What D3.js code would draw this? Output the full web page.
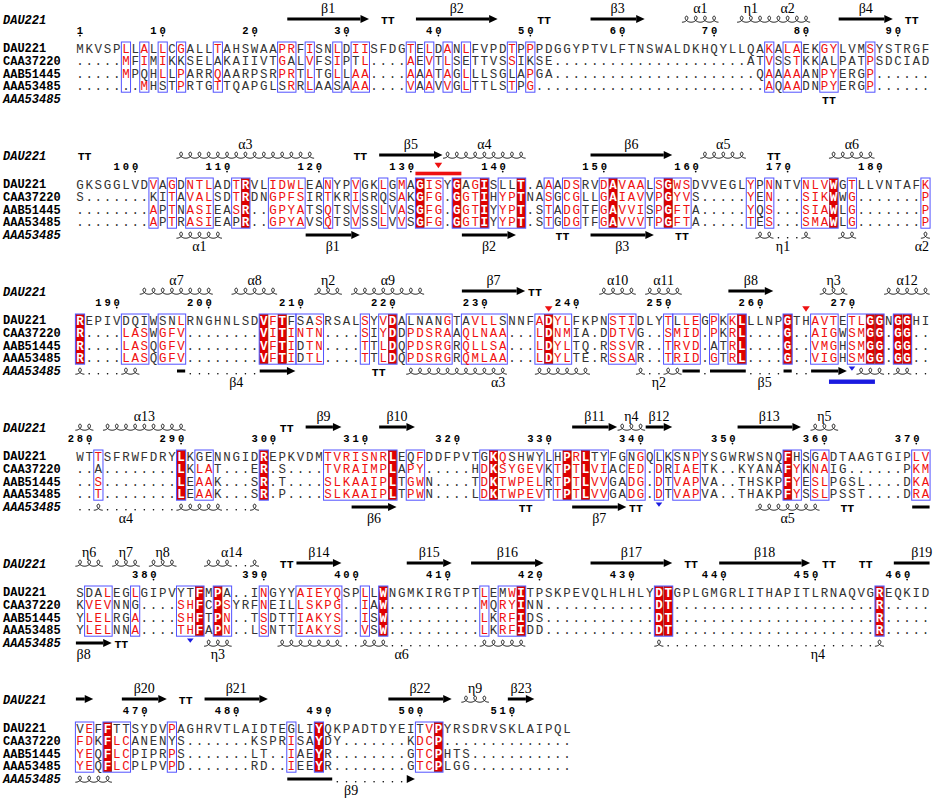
<!DOCTYPE html>
<html>
<head>
<meta charset="utf-8">
<script src="https://cdn.jsdelivr.net/npm/d3@7"></script>
<style>
  body { margin: 0; background: #fff; }
  svg { display: block; }
</style>
</head>
<body>
<svg id="chart"></svg>
<script>
const names = ["DAU221", "CAA37220", "AAB51445", "AAA53485"];

// one string per alignment block; inside a framed column an upper-case letter is printed red,
// a lower-case letter marks a residue that stays black
const dau221 = [
  "MKVSPLLALLCGALLTAHSWAAPRFISNLDIISFDGTELDANLFVPDTPPPDGGYPTVLFTNSWALDKHQYLLQAKALAEKGYLVMSYSTRGF",
  "GKSGGLVDVAGDNTLADTRVLIDWLEANYPVGKLGMAGISYGaGISllT.AAADSRVDAVAALSGWSDVVEGLYPNNTVNLVWGTLLVNTAFK",
  "REPIVdqiWsnLRNGHNLSDVFTfsaSRSALSYVDAlnanGTaVLLsNNFADYLFKPNSTIDLYTlLEGPKKLLLNPGTHAVTETLGGNGGHI",
  "WTTSFRWFDRYLKgeNNGIDREPKVDMTVRISNRLEqFDDFPVTgKQshwyLhPRLtyFGnGQlKsnPYSGWRWSNQFhSgADTAAGTGIPLV",
  "SdaLEGLGIPVytFMPa..INGYYAIEYQSPLLWNGMKIRGTPTLEmWITPSKPEVQLHLHLYDTGPLGMGRLITHAPITLRNAQVGREQKID",
  "vEFFttSYDVPAGHRVTLAIDTEgLIYQKPADTDYEItVPYRSDRVSKLAIPQL"
];
const caa37220 = [
  ".....MFIMIKkSELaKAIIVTGaLVFSIPtL....AEVTLSeTTVSSIkSE.....................ATVSsTKKalPATPSDCIAD",
  "S.......kITAVALSDTRDNGPFSIRTKRISRqSAKGFG.GGTIHYPTNASGCGLLGAIAVVPGYVS.....YEN...SIKWWG.......P",
  "R....LASWGFV........VITINTN....SIYDDPDSRAAQLNAA...LDNMIA.DDTVG..SMID.PKRL....G..AIGWSMGG.GG..",
  "..a........LKLAT...ER.S....TVRAIMPLAPY.....HDKSYGEVKTPTLVIACED.DRIAETK..KYANAFYKNAIG......PKM",
  "KVEVNNg....SHFCPSYRFNEILLSKPG..IAW..........MQRYINN............DT......................R.....",
  "FDKFLCANENyS.......KSPRISAYDY.......KDCP.............."
];
const aab51445 = [
  ".....MPqHLLPARRQAARPSRPRTLTGLLAA....AAATAGLLLSGlAPGA......................QAAAAANPYERGP......",
  "........APTNASIEASR..GPYATSQTSVSSLVASGFG.GGTIYYPT.STADGTFGAVVISPGFTA.....YQS...SIAWLG.......P",
  "R....LASQGFV........VFTIdTN....TTLDQPDSRGRQLLSA...LDYLTQ.RSSVR..TRVD.aTRL....G..VMGHSMGG.GG..",
  "..S........LEAAK...SR.T....SLKAAIPLTGWN....TDKTWPELRTPTLVVGADG.DTVAPVA..THSKPFYESLPGSL....DKA",
  "YLELRGA....SHFTPN..TSDTTIAKYS..ISW..........LKRFIDS............DT......................R.....",
  "YEQFLCPIPRPS.......LT..IAEYR........GTCPHTS..........."
];
const aaa53485 = [
  ".......MHsTPRTGTTQAPGLsRRLAAsAAA....VAAVVGLTTLSTPG.........................AQAADNPYERGP......",
  "........APTRASIEApR..GPYAVSQTSVSSLVVSGFG.GGTIYYPT.STGDGTFGAVVVTPGFTA.....TES...SMAWLG.......P",
  "R....LASQGFV........VFTIdTL....TTLDQPDSRGRQMLAA...LDYLTE.RSSAR..TRID.GTRL....G..VIGHSMGG.GG..",
  "..T........LEAAK...SR.P....SLKAAIPLTPWN....LDKTWPEVTTPTLVVGADG.DTVAPVA..THAKPFYSSLPSST....DRA",
  "YLELNNA....THFAPN..LSNTTIAKYS..VSW..........LKRFIDD............DT......................R.....",
  "YEQFLCPLPVPD.......RD..IEEYR........GTCPLGG..........."
];

// similarity frames [first column, last column] per block
const framed = [
  [[5,5],[7,7],[9,9],[11,11],[15,15],[22,23],[25,25],[28,28],[30,31],[36,36],[38,38],[40,40],[42,42],[47,47],[49,49],[75,75],[77,78],[81,82],[86,86]],
  [[8,8],[10,10],[12,14],[17,18],[21,24],[27,27],[30,30],[33,33],[35,35],[37,39],[41,44],[46,48],[51,51],[53,54],[57,61],[63,66],[73,73],[75,75],[79,82],[84,84],[92,92]],
  [[0,0],[5,7],[9,11],[20,23],[24,26],[31,31],[33,34],[36,40],[42,46],[50,53],[58,60],[64,64],[65,67],[69,69],[71,72],[77,77],[80,82],[84,87],[89,90]],
  [[2,2],[11,11],[13,14],[20,20],[27,34],[36,37],[44,50],[52,57],[60,61],[63,63],[65,67],[77,78],[80,81],[91,92]],
  [[1,3],[6,6],[11,13],[15,16],[20,20],[24,28],[31,31],[33,33],[44,44],[46,48],[63,64],[87,87]],
  [[0,1],[3,5],[10,10],[23,23],[26,26],[37,39]]
];
// strictly conserved columns per block
const strict = [
  [],
  [18,37,41,44,48,58,64,82],
  [0,20,22,34,51,72,77,86,87,89,90],
  [11,20,34,45,53,55,77],
  [13,15,33,48,63,64,87],
  [3,26,39]
];

// secondary structure: [kind, first col, last col, label, label col]
// E strand with head, B strand without head, H helix, T turn, . gap
const ssTop = [
  [["E",23,31,"β1"],["T",33,34],["E",37,45,"β2"],["T",50,51],["E",56,61,"β3"],["H",66,69,"α1"],["H",72,74,"η1"],["H",75,79,"α2"],["E",83,88,"β4"],["T",90,91]],
  [["T",0,1],["H",11,25,"α3"],["T",30,31],["E",33,39,"β5"],["H",40,48,"α4"],["E",56,64,"β6"],["H",68,72,"α5"],["T",75,76],["H",82,86,"α6"]],
  [["H",7,14,"α7"],["H",17,21,"α8"],["H",26,28,"η2"],["H",30,37,"α9"],["E",42,48,"β7"],["T",49,50],["H",57,60,"α10"],["H",62,65,"α11"],["E",71,75,"β8"],["H",81,83,"η3"],["H",88,92,"α12"]],
  [["H",0,1],["H",3,11,"α13"],["T",22,23],["E",25,28,"β9"],["E",33,36,"β10"],["E",54,58,"β11"],["H",59,61,"η4"],["E",62,64,"β12"],["E",72,78,"β13"],["H",80,82,"η5"]],
  [["H",0,2,"η6"],["H",4,6,"η7"],["H",8,10,"η8"],["H",14,16],[".",17,18],["H",19,19,"α14",16.5],["T",22,23],["E",24,28,"β14"],["E",36,40,"β15"],["E",43,50,"β16"],["E",56,64,"β17"],["T",66,67],["E",70,79,"β18"],["T",81,82],["T",85,86],["B",89,92,"β19",91.6]],
  [["E",0,1],["E",5,9,"β20"],["T",11,12],["E",14,20,"β21"],["E",34,40,"β22"],["H",42,44,"η9"],["E",47,49,"β23"]]
];
const ssBottom = [
  [["T",81,82]],
  [["H",11,15,"α1"],["E",25,30,"β1"],["E",42,47,"β2"],["T",52,53],["E",56,62,"β3"],["T",65,66],["H",74,75],[".",76,78],["H",79,79,"η1",76.5],["H",83,84],["H",92,92,"α2",91.6]],
  [["H",0,0],[".",1,4],["H",5,6],["B",11,11],[".",12,19],["E",20,23,"β4",17],["T",32,33],["H",36,46],["H",50,55,"α3",45.5],["H",61,61],[".",62,63],["H",64,65,"η2",63],["B",66,67],[".",68,68],["B",69,72],[".",73,76],["B",77,77],[".",78,79],["E",80,83,"β5",74.5],["H",85,87],[".",88,88],["H",89,90],[".",91,92]],
  [[".",0,1],["H",2,2],[".",3,10],["H",11,15],[".",16,18],["H",19,19,"α4",5],["E",30,34,"β6"],["T",48,49],["E",54,59,"β7"],["T",60,61],["H",74,80,"α5"],["T",83,84],["B",91,92]],
  [["E",0,3,"β8",0.4],["T",4,5],["H",14,16,"η3"],["H",22,28],[".",29,30],["H",31,33],[".",34,43],["H",44,48,"α6",35],["H",63,63],[".",64,86],["H",87,87,"η4",80.3]],
  [["H",0,3],["B",23,27],[".",28,35],["E",36,36,"β9",29.5]]
];

// site marks: [block, column] and bars [block, first, last]
const redSites = [[1,39],[2,51],[2,79]];
const redSpans = [[1,37,41]];
const blueSites = [[2,84],[3,63],[4,12]];
const blueSpans = [[2,82,86]];

const seqs = [dau221, caa37220, aab51445, aaa53485];
const mono = "'Liberation Mono', 'DejaVu Sans Mono', monospace";
const serif = "'Liberation Serif', 'DejaVu Serif', serif";
const RED = "#f01010", FILL = "#e00000", BLUE = "#5252ff", INK = "#333";

const svg = d3.select("#chart").attr("width", 935).attr("height", 799);
const x = d3.scaleLinear().domain([0, 93]).range([75.4, 930.07]);
const cw = x(1) - x(0);
const cx = c => x(c + 0.5);
const y = d3.scaleBand().domain(names).range([42, 92.2]);
const by = d3.scaleLinear().domain([0, 1]).range([0, 136]);

// looped helix glyph, one loop per residue
function coil(s, e, yb) {
  const a = cw / (2 * Math.PI);
  const tMax = (e - s + 1) * 2 * Math.PI;
  return d3.range(0, tMax + 0.001, 0.12)
    .map(t => [x(s) + a * t + 3.3 * Math.sin(t), yb - 3.0 * (1 - Math.cos(t))]);
}

function drawSS(g, list, yl, labelY) {
  const line = d3.line();
  list.forEach(([k, s, e, label, lc]) => {
    const x0 = x(s) + 0.5, x1 = x(e + 1) - 0.5;
    if (k === "E") {
      const hl = Math.min(8.5, x1 - x0);
      if (x1 - hl > x0)
        g.append("rect").attr("x", x0).attr("y", yl - 1.5).attr("width", x1 - hl - x0).attr("height", 3).attr("fill", "#000");
      g.append("path").attr("d", `M${x1 - hl},${yl - 4}L${x1},${yl}L${x1 - hl},${yl + 4}Z`).attr("fill", "#000");
    } else if (k === "B") {
      g.append("rect").attr("x", x0).attr("y", yl - 1.5).attr("width", x1 - x0).attr("height", 3).attr("fill", "#000");
    } else if (k === "H") {
      g.append("path").attr("d", line(coil(s, e, yl + 3.2)))
        .attr("fill", "none").attr("stroke", "#000").attr("stroke-width", 0.95);
    } else if (k === "T") {
      g.append("text").attr("x", (cx(s) + cx(e)) / 2).attr("y", yl + 4.5)
        .attr("text-anchor", "middle").attr("font-family", mono).attr("font-weight", "bold")
        .attr("font-size", 11.5).text("TT");
    } else {
      g.selectAll(null).data(d3.range(s, e + 1)).join("circle")
        .attr("cx", c => cx(c)).attr("cy", yl + 2.8).attr("r", 0.8).attr("fill", "#000");
    }
    if (label) {
      g.append("text").attr("x", cx(lc !== undefined ? lc : (s + e) / 2)).attr("y", labelY)
        .attr("text-anchor", "middle").attr("font-family", serif).attr("font-size", 14)
        .text(label);
    }
  });
}

let res = 1;
dau221.forEach((dauRow, b) => {
  const g = svg.append("g").attr("transform", `translate(0,${by(b)})`);
  const inFrame = new Set();
  framed[b].forEach(([s, e]) => d3.range(s, e + 1).forEach(c => inFrame.add(c)));
  const solid = new Set(strict[b]);
  const [top, bot] = y.range();

  // conserved columns
  g.selectAll("rect.id").data(strict[b]).join("rect")
    .attr("x", c => x(c) + 0.5).attr("y", top + 0.6)
    .attr("width", cw - 1).attr("height", bot - top - 1.2)
    .attr("fill", FILL).attr("stroke", "#8a1010").attr("stroke-width", 0.7);

  // similarity frames
  g.selectAll("rect.fr").data(framed[b]).join("rect")
    .attr("x", d => x(d[0])).attr("y", top)
    .attr("width", d => x(d[1] + 1) - x(d[0])).attr("height", bot - top)
    .attr("fill", "none").attr("stroke", BLUE).attr("stroke-width", 1);

  // sequence names and residues
  names.forEach((name, i) => {
    const yc = y(name) + y.bandwidth() / 2;
    g.append("text").attr("x", 3).attr("y", yc + 4.2)
      .attr("font-family", mono).attr("font-weight", "bold").attr("font-size", 12).text(name);
    const chars = seqs[i][b].split("").map((ch, c) => ({ ch, c }));
    g.selectAll(null).data(chars).join("text")
      .attr("x", d => cx(d.c)).attr("y", yc + 4.3)
      .attr("text-anchor", "middle").attr("font-family", mono).attr("font-size", 12.5)
      .attr("font-weight", d => solid.has(d.c) ? "bold" : "normal")
      .attr("fill", d => {
        if (d.ch === ".") return INK;
        if (solid.has(d.c)) return "#fff";
        if (inFrame.has(d.c) && d.ch === d.ch.toUpperCase()) return RED;
        return INK;
      })
      .text(d => d.ch.toUpperCase());
  });

  // italic structure labels
  g.append("text").attr("x", 3).attr("y", 24).attr("font-family", mono)
    .attr("font-weight", "bold").attr("font-style", "italic").attr("font-size", 12).text(names[0]);
  g.append("text").attr("x", 3).attr("y", 102.5).attr("font-family", mono)
    .attr("font-weight", "bold").attr("font-style", "italic").attr("font-size", 12).text(names[3]);

  // residue numbering of DAU221
  dauRow.split("").forEach((ch, c) => {
    if (ch === ".") return;
    if (res === 1 || res % 10 === 0) {
      const digits = String(res).split("");
      digits.forEach((dg, k) => {
        g.append("text").attr("x", cx(c - (digits.length - 1 - k))).attr("y", 33.5)
          .attr("text-anchor", "middle").attr("font-family", mono).attr("font-weight", "bold")
          .attr("font-size", 10.5).text(dg);
      });
      g.append("circle").attr("cx", cx(c)).attr("cy", 35.6).attr("r", 0.9).attr("fill", "#000");
    }
    res++;
  });

  drawSS(g, ssTop[b], 19, 12.8);
  drawSS(g, ssBottom[b], 99, 115);

  // site marks
  const hasRedBar = redSpans.some(d => d[0] === b);
  redSpans.filter(d => d[0] === b).forEach(([, s, e]) => {
    g.append("rect").attr("x", x(s)).attr("y", 35.7).attr("width", x(e + 1) - x(s)).attr("height", 3.6).attr("fill", "#ee1111");
  });
  redSites.filter(d => d[0] === b).forEach(([, c]) => {
    const yc = hasRedBar ? 29.5 : 37;
    g.append("path").attr("d", `M${cx(c) - 3.8},${yc - 2.8}L${cx(c) + 3.8},${yc - 2.8}L${cx(c)},${yc + 2.8}Z`).attr("fill", "#ee1111");
  });
  blueSpans.filter(d => d[0] === b).forEach(([, s, e]) => {
    g.append("rect").attr("x", x(s)).attr("y", 107.5).attr("width", x(e + 1) - x(s)).attr("height", 4.4).attr("fill", "#1a1ae0");
  });
  blueSites.filter(d => d[0] === b).forEach(([, c]) => {
    g.append("path").attr("d", `M${cx(c) - 3.3},${94.5}L${cx(c) + 3.3},${94.5}L${cx(c)},${98.8}Z`).attr("fill", "#1a1ae0");
  });
});
</script>
</body>
</html>
